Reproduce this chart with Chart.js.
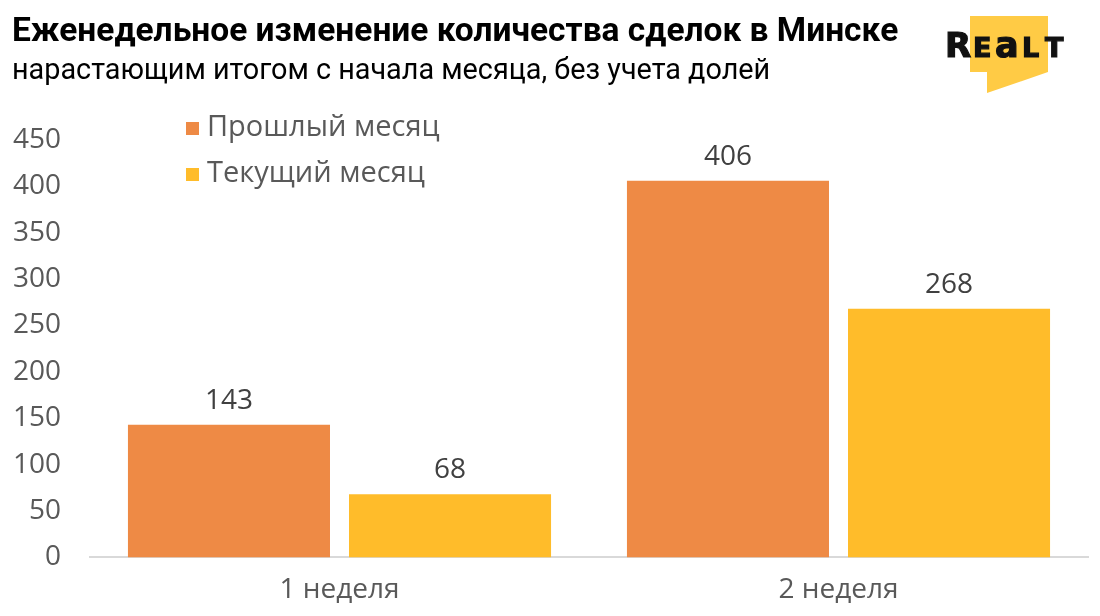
<!DOCTYPE html>
<html>
<head>
<meta charset="utf-8">
<script src="https://cdn.jsdelivr.net/npm/chart.js@4.4.0/dist/chart.umd.min.js"></script>
<style>
  body { margin: 0; background: #fff; }
  #wrap { position: relative; width: 1100px; height: 616px; overflow: hidden; }
  #title { position: absolute; left: 12px; top: 10px; font: bold 33.5px Roboto, sans-serif; color: #000; white-space: nowrap; }
  #subtitle { position: absolute; left: 12px; top: 52px; font: 28.8px Roboto, sans-serif; color: #000; white-space: nowrap; }
  #logo { position: absolute; left: 0; top: 0; }
  #chartBox { position: absolute; left: 0; top: 0; width: 1100px; height: 616px; }
</style>
</head>
<body>
<div id="wrap">
  <div id="chartBox"><canvas id="dealsChart"></canvas></div>
  <div id="title">Еженедельное изменение количества сделок в Минске</div>
  <div id="subtitle">нарастающим итогом с начала месяца, без учета долей</div>
  <svg id="logo" width="1100" height="100" viewBox="0 0 1100 100">
    <polygon points="970,16 1048,16 1048,72 987,93 987,72 970,72" fill="#ffcb45"/>
    <text y="57" font-family="'DejaVu Sans', sans-serif" font-weight="bold" fill="#111" stroke="#111" stroke-width="1.2">
      <tspan x="945" font-size="34">R</tspan><tspan x="973" font-size="27">E</tspan><tspan x="995" font-size="35">a</tspan><tspan x="1022" font-size="27">L</tspan><tspan x="1045" font-size="27">T</tspan>
    </text>
  </svg>
</div>

<script>
// данные графика
const weeks = ['1 неделя', '2 неделя'];
const seriesNames = ['Прошлый месяц', 'Текущий месяц'];
const lastMonth = [143, 406];
const currentMonth = [68, 268];
const yTicks = [0, 50, 100, 150, 200, 250, 300, 350, 400, 450];

const colors = ['#ee8a45', '#ffbc2a'];
const textFont = '"Open Sans", sans-serif';

// подписи значений над столбцами
const valueLabels = {
    id: 'valueLabels',
    afterDatasetsDraw(chart) {
        const ctx = chart.ctx;
        ctx.save();
        ctx.font = '28px ' + textFont;
        ctx.fillStyle = '#404040';
        ctx.textAlign = 'center';
        ctx.textBaseline = 'bottom';
        chart.data.datasets.forEach((ds, i) => {
            chart.getDatasetMeta(i).data.forEach((bar, j) => {
                ctx.fillText(ds.data[j], bar.x, bar.y - 10);
            });
        });
        ctx.restore();
    }
};

// легенда в левом верхнем углу
const cornerLegend = {
    id: 'cornerLegend',
    afterDraw(chart) {
        const ctx = chart.ctx;
        ctx.save();
        ctx.font = '29px ' + textFont;
        ctx.textBaseline = 'middle';
        chart.data.datasets.forEach((ds, i) => {
            const y = 128 + i * 46;
            ctx.fillStyle = ds.backgroundColor;
            ctx.fillRect(186, y - 6, 13, 13);
            ctx.fillStyle = '#595959';
            ctx.fillText(ds.label, 207, y);
        });
        ctx.restore();
    }
};

window.onload = function() {
    const ctx = document.getElementById('dealsChart').getContext('2d');
    new Chart(ctx, {
        type: 'bar',
        data: {
            labels: weeks,
            datasets: [
                { label: seriesNames[0], data: lastMonth, backgroundColor: colors[0] },
                { label: seriesNames[1], data: currentMonth, backgroundColor: colors[1] }
            ]
        },
        options: {
            responsive: true,
            maintainAspectRatio: false,
            animation: false,
            layout: { padding: { top: 140, right: 12, bottom: 1, left: 8 } },
            datasets: { bar: { categoryPercentage: 0.886, barPercentage: 0.914 } },
            plugins: {
                legend: { display: false },
                tooltip: { enabled: false }
            },
            scales: {
                x: {
                    grid: { display: false },
                    border: { color: '#d9d9d9', width: 2 },
                    ticks: { color: '#595959', font: { family: textFont, size: 28 }, padding: 8 }
                },
                y: {
                    min: 0,
                    max: 450,
                    afterBuildTicks(axis) { axis.ticks = yTicks.map(v => ({ value: v })); },
                    afterFit(axis) { axis.width = 82; },
                    grid: { display: false },
                    border: { display: false },
                    ticks: { color: '#595959', font: { family: textFont, size: 28 }, padding: 21 }
                }
            }
        },
        plugins: [valueLabels, cornerLegend]
    });
};
</script>
</body>
</html>
